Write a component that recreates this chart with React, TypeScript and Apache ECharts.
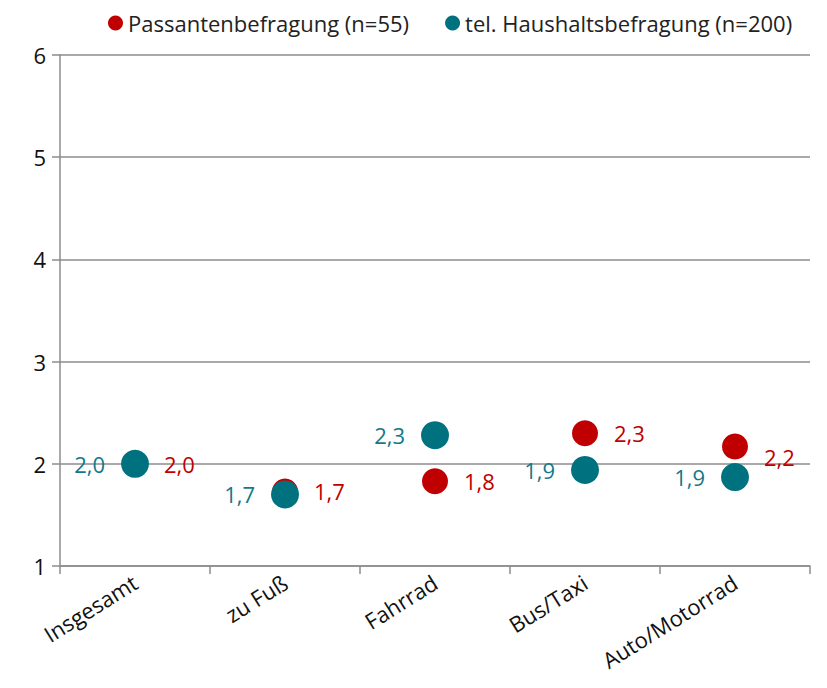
import React, { useEffect, useRef } from "react";
import * as echarts from "echarts";

const categories = ["Insgesamt", "zu Fuß", "Fahrrad", "Bus/Taxi", "Auto/Motorrad"];
const passanten = [2.0, 1.73, 1.83, 2.3, 2.17];
const haushalte = [2.0, 1.7, 2.28, 1.94, 1.87];
const seriesNames = ["Passantenbefragung (n=55)", "tel. Haushaltsbefragung (n=200)"];

const RED = "#C00000";
const TEAL = "#00717F";
const FONT = "'Open Sans', 'Noto Sans', sans-serif";

const fmt = (v: number) => v.toFixed(1).replace(".", ",");

export default function App() {
  const ref = useRef<HTMLDivElement>(null);
  useEffect(() => {
    if (!ref.current) return;
    const chart = echarts.init(ref.current, undefined, { renderer: "svg" });
    chart.setOption({
      animation: false,
      textStyle: { fontFamily: FONT },
      legend: {
        top: 4,
        left: 100,
        width: 711,
        padding: 0,
        itemGap: 36,
        itemWidth: 15,
        itemHeight: 15,
        icon: "circle",
        textStyle: { fontSize: 22, lineHeight: 22, color: "#222", fontFamily: FONT },
        data: seriesNames,
      },
      grid: { left: 52, right: 9, top: 47, bottom: 114 },
      xAxis: {
        type: "category",
        data: categories,
        boundaryGap: true,
        axisLine: { lineStyle: { color: "#8c8c8c", width: 1.5 } },
        axisTick: { show: true, length: 8, alignWithLabel: false, lineStyle: { color: "#8c8c8c", width: 1.5 } },
        axisLabel: { rotate: 32, fontSize: 22, color: "#111", margin: 14, fontFamily: FONT },
      },
      yAxis: {
        type: "value",
        min: 1,
        max: 6,
        interval: 1,
        axisLine: { show: true, lineStyle: { color: "#8c8c8c", width: 1.5 } },
        axisTick: { show: true, length: 8, lineStyle: { color: "#8c8c8c", width: 1.5 } },
        splitLine: { lineStyle: { color: "#8c8c8c", width: 1.5 } },
        axisLabel: { fontSize: 22, color: "#111", margin: 14, fontFamily: FONT },
      },
      series: [
        {
          name: seriesNames[0],
          type: "scatter",
          symbol: "circle",
          symbolSize: 26,
          itemStyle: { color: RED, opacity: 1 },
          emphasis: { disabled: true },
          data: passanten.map((v, i) =>
            i === 4 ? { value: v, label: { offset: [0, 11] } } : v
          ),
          label: {
            show: true,
            position: "right",
            distance: 16,
            fontSize: 22,
            color: RED,
            fontFamily: FONT,
            formatter: (p: any) => fmt(p.value),
          },
        },
        {
          name: seriesNames[1],
          type: "scatter",
          symbol: "circle",
          symbolSize: 28,
          itemStyle: { color: TEAL, opacity: 1 },
          emphasis: { disabled: true },
          data: haushalte,
          label: {
            show: true,
            position: "left",
            distance: 16,
            fontSize: 22,
            color: "#13788A",
            fontFamily: FONT,
            formatter: (p: any) => fmt(p.value),
          },
        },
      ],
    });
    return () => chart.dispose();
  }, []);
  return <div ref={ref} style={{ width: 811, height: 672 }} />;
}
